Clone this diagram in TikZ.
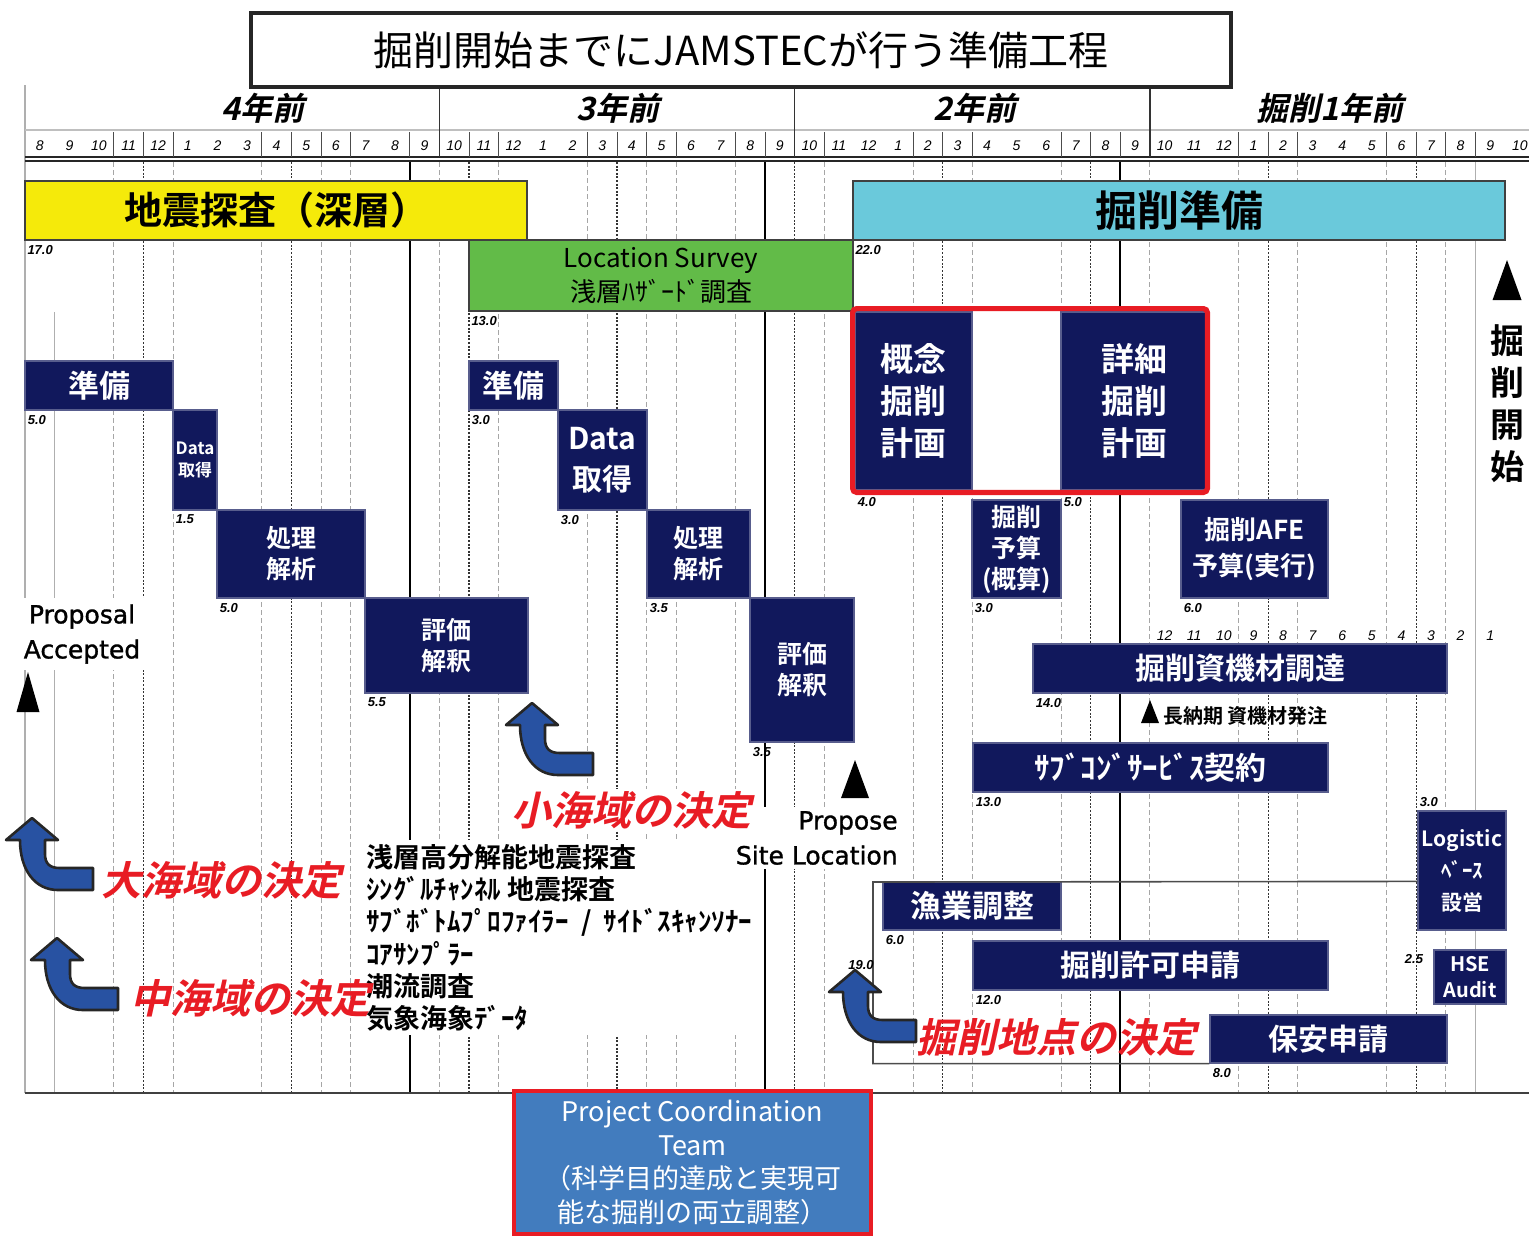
\documentclass[tikz,border=0pt]{standalone}
\usepackage{fontspec}
\setmainfont{Noto Sans CJK JP}[BoldFont={Noto Sans CJK JP Bold}]
\setsansfont{Liberation Sans}
\newfontfamily\slantjp[FakeSlant=0.22]{Noto Sans CJK JP Bold}
\newfontfamily\latinsans[FakeBold=1.2]{DejaVu Sans}
\usepackage{tikz}
\usetikzlibrary{positioning}
\newcommand{\fsz}[2]{\fontsize{#1}{#2}\selectfont}
\definecolor{navy}{RGB}{17,24,92}
\definecolor{seisyel}{RGB}{245,234,10}
\definecolor{drillcyan}{RGB}{106,201,219}
\definecolor{lsgreen}{RGB}{98,187,72}
\definecolor{decblue}{RGB}{40,82,162}
\definecolor{decred}{RGB}{232,28,36}
\definecolor{pctblue}{RGB}{66,124,190}
\definecolor{gridgray}{RGB}{175,175,175}
\tikzstyle{task} = [rectangle,fill=navy,draw=navy!70!white,line width=0.6pt,inner sep=0pt,text=white,align=center]
\tikzstyle{phase} = [rectangle,draw=black!75,line width=0.9pt,inner sep=0pt,align=center]
\tikzstyle{dur} = [inner sep=0pt,font=\sffamily\bfseries\itshape\fsz{6.5}{7}]
\tikzstyle{decide} = [fill=decblue,draw=black!85,line width=1.3pt,line join=round]
\tikzstyle{declbl} = [text=decred,inner sep=1pt,font=\slantjp\fsz{20}{22}]
\tikzstyle{gdark} = [black!80,line width=0.6pt,dash pattern=on 1pt off 0.8pt]
\tikzstyle{glight} = [black!35,line width=0.5pt,dash pattern=on 2.5pt off 1.5pt]

\begin{document}
\begin{tikzpicture}[x=0.5pt,y=-0.5pt]
	\useasboundingbox (0,0) rectangle (1529,1237);
	\draw[gridgray,line width=0.8pt] (25,85) -- (25,1093);
	\draw[black!25,line width=1pt] (25,130) -- (1529,130);
	\draw[black!85,line width=0.8pt] (25,157) -- (1529,157);
	\draw[black!85,line width=0.8pt] (25,161) -- (1529,161);
	\foreach \k in {3,4,5,8,9,10,11,13,15,16,19,20,21,22,24,25,27,30,31,32,35,36,37,41,42,43,46,47,48,49}
		\draw[black!70,line width=0.5pt] ({25+29.6*\k},132) -- ({25+29.6*\k},157);
	\foreach \k in {14,26,38}
		\draw[black!80,line width=0.8pt] ({25+29.6*\k},88) -- ({25+29.6*\k},157);
	\foreach \k in {3,5,8,10,11,14,16,19,21,22,24,27,30,32,35,38,41,43,46,48}
		\draw[glight] ({25+29.6*\k},162) -- ({25+29.6*\k},1093);
	\foreach \k in {4,9,15,20,26,31,36,42,47}
		\draw[gdark] ({25+29.6*\k},162) -- ({25+29.6*\k},1093);
	\foreach \k in {13,25,37}
		\draw[black,line width=0.8pt] ({25+29.6*\k},162) -- ({25+29.6*\k},1093);
	\draw[gridgray,line width=0.8pt] (54.6,312) -- (54.6,1093);
	\draw[gridgray,line width=0.8pt] (1475.4,162) -- (1475.4,1093);
	\draw[black!75,line width=0.8pt] (25,1093) -- (1529,1093);

	\node[draw=black!85,line width=1.7pt,inner sep=0pt,minimum width=490pt,minimum height=37pt,font=\fsz{20}{24}] (title) at (741,50) {掘削開始までにJAMSTECが行う準備工程};
	\node[font=\slantjp\fsz{16}{18}] (yr4) at (263,108) {4年前};
	\node[font=\slantjp\fsz{16}{18}] (yr3) at (618,108) {3年前};
	\node[font=\slantjp\fsz{16}{18}] (yr2) at (975,108) {2年前};
	\node[font=\slantjp\fsz{16}{18}] (yr1) at (1330,108) {掘削1年前};
	\foreach \m [count=\k from 0] in {8,9,10,11,12,1,2,3,4,5,6,7,8,9,10,11,12,1,2,3,4,5,6,7,8,9,10,11,12,1,2,3,4,5,6,7,8,9,10,11,12,1,2,3,4,5,6,7,8,9,10}
		\node[font=\sffamily\itshape\fsz{7}{8}] (m\k) at ({25+29.6*(\k+0.5)},146) {\m};

	\node[phase,fill=seisyel,minimum width=251pt,minimum height=29.5pt,font=\bfseries\fsz{19}{21}] (deep) at (276,210.5) {地震探査（深層）};
	\node[phase,fill=drillcyan,minimum width=326pt,minimum height=29.5pt,font=\bfseries\fsz{21}{23}] (prep) at (1179,210.5) {掘削準備};
	\node[phase,fill=lsgreen,minimum width=192pt,minimum height=35.5pt,font=\fsz{13}{17}] (lsurv) at (661,275.5) {Location Survey\\浅層ﾊｻﾞｰﾄﾞ調査};

	\node[task,minimum width=74pt,minimum height=24.5pt,font=\bfseries\fsz{15.5}{17}] (prepL) at (99,385.5) {準備};
	\node[task,minimum width=22pt,minimum height=50pt,font=\bfseries\fsz{8.5}{11}] (dataL) at (195,460) {Data\\取得};
	\node[task,minimum width=74pt,minimum height=44pt,font=\bfseries\fsz{12.5}{15.5}] (procL) at (291,554) {処理\\解析};
	\node[task,minimum width=81.5pt,minimum height=47.5pt,font=\bfseries\fsz{12.5}{15.5}] (evalL) at (446.5,645.5) {評価\\解釈};
	\node[task,minimum width=44.5pt,minimum height=24.5pt,font=\bfseries\fsz{15.5}{17}] (prepM) at (513.5,385.5) {準備};
	\node[task,minimum width=44.5pt,minimum height=50pt,font=\bfseries\fsz{15}{20.5}] (dataM) at (602.5,460) {Data\\取得};
	\node[task,minimum width=51.5pt,minimum height=44pt,font=\bfseries\fsz{12.5}{15.5}] (procM) at (698.5,554) {処理\\解析};
	\node[task,minimum width=52pt,minimum height=72pt,font=\bfseries\fsz{12.5}{15.5}] (evalM) at (802,670) {評価\\解釈};

	\node[fill=white,inner sep=0pt,minimum width=177pt,minimum height=91.5pt] (planbox) at (1030,400.5) {};
	\node[task,minimum width=58.5pt,minimum height=89pt,font=\bfseries\fsz{16.5}{21}] (concept) at (913.5,401) {概念\\掘削\\計画};
	\node[task,minimum width=73pt,minimum height=89pt,font=\bfseries\fsz{16.5}{21}] (detail) at (1134,401) {詳細\\掘削\\計画};
	\draw[decred,line width=2.6pt,rounded corners=2pt] (planbox.north west) rectangle (planbox.south east);
	\node[task,minimum width=44.5pt,minimum height=49pt,font=\bfseries\fsz{12.5}{15.5}] (budget) at (1016.5,549) {掘削\\予算\\(概算)};
	\node[task,minimum width=73.5pt,minimum height=49pt,font=\bfseries\fsz{13}{18}] (afe) at (1254.5,549) {掘削AFE\\予算(実行)};
	\node[task,minimum width=207pt,minimum height=24.5pt,font=\bfseries\fsz{15}{17}] (procure) at (1240,668.5) {掘削資機材調達};
	\node[task,minimum width=177.5pt,minimum height=24.5pt,font=\bfseries\fsz{15.5}{17}] (subcon) at (1150.5,767.5) {ｻﾌﾞｺﾝﾞｻｰﾋﾞｽ契約};
	\node[task,minimum width=44pt,minimum height=59.5pt,font=\bfseries\fsz{10.5}{16}] (logi) at (1462,870.5) {Logistic\\ﾍﾞｰｽ\\設営};
	\node[task,minimum width=89pt,minimum height=24pt,font=\bfseries\fsz{15.5}{17}] (fish) at (972,906) {漁業調整};
	\node[task,minimum width=177.5pt,minimum height=24.5pt,font=\bfseries\fsz{15}{17}] (permit) at (1150.5,965.5) {掘削許可申請};
	\node[task,minimum width=36pt,minimum height=27pt,font=\bfseries\fsz{10}{13}] (hse) at (1470,977) {HSE\\Audit};
	\node[task,minimum width=118.5pt,minimum height=24pt,font=\bfseries\fsz{15}{17}] (safety) at (1328.5,1039) {保安申請};
	\coordinate (frameNW) at (873,882);
	\draw[black!70,line width=0.8pt] (logi.west |- fish.north) -- (frameNW) |- (safety.south west);

	\node[dur,below right=2pt and 1.5pt of deep.south west] (dDeep) {17.0};
	\node[dur,below right=2pt and 1.5pt of prep.south west] (dPrep) {22.0};
	\node[dur,below right=2pt and 1.5pt of lsurv.south west] (dLsurv) {13.0};
	\node[dur,below right=2pt and 1.5pt of prepL.south west] (dPrepL) {5.0};
	\node[dur,below right=2pt and 1.5pt of dataL.south west] (dDataL) {1.5};
	\node[dur,below right=2pt and 1.5pt of procL.south west] (dProcL) {5.0};
	\node[dur,below right=2pt and 1.5pt of evalL.south west] (dEvalL) {5.5};
	\node[dur,below right=2pt and 1.5pt of prepM.south west] (dPrepM) {3.0};
	\node[dur,below right=2pt and 1.5pt of dataM.south west] (dDataM) {3.0};
	\node[dur,below right=2pt and 1.5pt of procM.south west] (dProcM) {3.5};
	\node[dur,below right=2pt and 1.5pt of evalM.south west] (dEvalM) {3.5};
	\node[dur,below right=3pt and 1.5pt of concept.south west] (dConcept) {4.0};
	\node[dur,below right=3pt and 1.5pt of detail.south west] (dDetail) {5.0};
	\node[dur,below right=2pt and 1.5pt of budget.south west] (dBudget) {3.0};
	\node[dur,below right=2pt and 1.5pt of afe.south west] (dAfe) {6.0};
	\node[dur,below right=2pt and 1.5pt of procure.south west] (dProcure) {14.0};
	\node[dur,below right=2pt and 1.5pt of subcon.south west] (dSubcon) {13.0};
	\node[dur,below right=2pt and 1.5pt of fish.south west] (dFish) {6.0};
	\node[dur,below right=2pt and 1.5pt of permit.south west] (dPermit) {12.0};
	\node[dur,below right=2pt and 1.5pt of safety.south west] (dSafety) {8.0};
	\node[dur,above right=1.5pt and 1pt of logi.north west] (dLogi) {3.0};
	\node[dur,below left=2.5pt and 5pt of hse.north west] (dHse) {2.5};
	\node[dur] (dFrame) at (861,965) {19.0};
	\foreach \n [count=\i from 0] in {12,11,10,9,8,7,6,5,4,3,2,1}
		\node[font=\sffamily\itshape\fsz{7}{8}] (cd\i) at ({25+29.6*(38.5+\i)},636) {\n};

	\foreach \x/\y/\w/\h in {28/672/23/40,855/760/28/38,1507/260/29/40,1150/700/18/23}
		\fill (\x,\y) -- ({\x+\w/2},{\y+\h}) -- ({\x-\w/2},{\y+\h}) -- cycle;
	\node[anchor=west,inner sep=0pt,font=\bfseries\fsz{10}{12}] (longlead) at (1163,716) {長納期 資機材発注};
	\node[align=center,font=\bfseries\fsz{17}{21}] (dstart) at (1507,404) {掘\\削\\開\\始};
	\node[fill=white,inner sep=3pt,align=center,font=\latinsans\fsz{12.5}{17.5}] (propAcc) at (82,634) {Proposal\\Accepted};
	\node[anchor=north west,fill=white,inner sep=2pt,align=left,font=\bfseries\fsz{13.5}{16.1}] (items) at (362,840) {浅層高分解能地震探査\\ｼﾝｸﾞﾙﾁｬﾝﾈﾙ 地震探査\\ｻﾌﾞﾎﾞﾄﾑﾌﾟﾛﾌｧｲﾗｰ ~/~ ｻｲﾄﾞｽｷｬﾝｿﾅｰ\\ｺｱｻﾝﾌﾟﾗｰ\\潮流調査\\気象海象ﾃﾞｰﾀ};
	\node[fill=white,inner sep=2pt,align=right,anchor=east,font=\latinsans\fsz{12.5}{17.5}] (propSite) at (902,838) {Propose\\Site Location};

	\foreach \x/\y in {32/818,57/938,532/703,855/970}
		\draw[decide,shift={(\x,\y)}] (0,0) -- (26,22) -- (13,22) -- (13,36) .. controls (13,46) and (18,50) .. (28,50) -- (61,50) -- (61,72) -- (26,72) .. controls (3,72) and (-12,52) .. (-12,22) -- (-26,22) -- cycle;
	\node[declbl] (bigSea) at (221,880) {大海域の決定};
	\node[declbl] (midSea) at (250,998) {中海域の決定};
	\node[declbl,fill=white] (smallSea) at (631,810) {小海域の決定};
	\node[declbl] (drillSite) at (1056,1037) {掘削地点の決定};

	\node[fill=pctblue,draw=decred,line width=2pt,inner sep=0pt,text=white,align=center,minimum width=178.5pt,minimum height=71.5pt,font=\fsz{13.5}{16.8}] (pct) at (692.5,1162.5) {Project Coordination\\Team\\（科学目的達成と実現可\\能な掘削の両立調整）};
\end{tikzpicture}
\end{document}
